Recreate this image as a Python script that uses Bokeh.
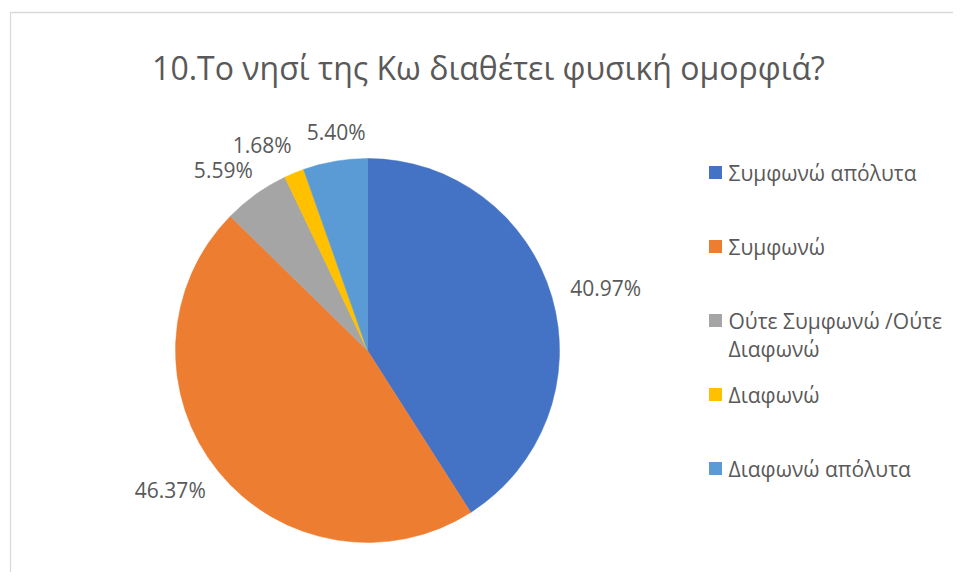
import math
from bokeh.plotting import figure
from bokeh.models import Range1d, ColumnDataSource
from bokeh.core.properties import value
from bokeh.embed import file_html
from bokeh.resources import INLINE

title_text = "10.Το νησί της Κω διαθέτει φυσική ομορφιά?"
categories = ["Συμφωνώ απόλυτα", "Συμφωνώ", "Ούτε Συμφωνώ /Ούτε Διαφωνώ", "Διαφωνώ", "Διαφωνώ απόλυτα"]
percentages = [40.97, 46.37, 5.59, 1.68, 5.40]
colors = ["#4472C4", "#ED7D31", "#A5A5A5", "#FFC000", "#5B9BD5"]

W, H = 953, 572
FONT = "Open Sans"
TXT = "#595959"

p = figure(width=W, height=H, output_backend="svg", toolbar_location=None,
           x_range=Range1d(0, W), y_range=Range1d(0, H), min_border=0)
p.axis.visible = False
p.grid.visible = False
p.outline_line_color = None
p.background_fill_color = "white"
p.border_fill_color = "white"

def py(page_y):
    # picture pixel y -> figure data y
    return H - page_y

def px(page_x):
    return page_x

# chart frame
p.quad(left=px(10), right=W + 50, top=py(12), bottom=-50, fill_alpha=0,
       line_color="#d9d9d9", line_width=1.3)

# title
p.text(x=[px(488)], y=[py(67)], text=[title_text], text_font=value(FONT),
       text_font_size="32px", text_color=TXT, text_align="center",
       text_baseline="alphabetic")

# pie
cx, cy, r = px(367), py(350), 192
total = sum(percentages)
starts, ends, mids = [], [], []
acc = 0.0
for v in percentages:
    a0 = math.pi / 2 - 2 * math.pi * acc / total
    acc += v
    a1 = math.pi / 2 - 2 * math.pi * acc / total
    starts.append(a0)
    ends.append(a1)
    mids.append((a0 + a1) / 2)

src = ColumnDataSource(dict(start=starts, end=ends, color=colors))
p.wedge(x=cx, y=cy, radius=r, start_angle="start", end_angle="end",
        direction="clock", fill_color="color", line_color="color",
        line_width=0.5, source=src)

# data labels (outside end), with a simple horizontal overlap resolution
pad = 20
lab_x, lab_y, lab_t, lab_w = [], [], [], []
for v, m in zip(percentages, mids):
    t = f"{v:.2f}%"
    w = 12 * len(t)
    ux, uy = math.cos(m), math.sin(m)
    a = w / 2 + (6 if ux < 0 else 0)
    lab_x.append(cx + (r + pad) * ux + a * ux)
    lab_y.append(cy + (r + pad) * uy + 10 * uy)
    lab_t.append(t)
    lab_w.append(w)

gap, lab_h = 14, 22
for _ in range(5):
    for i in range(len(lab_x)):
        for j in range(i + 1, len(lab_x)):
            if abs(lab_y[i] - lab_y[j]) >= lab_h:
                continue
            need = (lab_w[i] + lab_w[j]) / 2 + gap
            d = lab_x[j] - lab_x[i]
            if abs(d) < need:
                s = (need - abs(d)) / 2 * (1 if d >= 0 else -1)
                lab_x[i] -= s
                lab_x[j] += s

p.text(x=lab_x, y=lab_y, text=lab_t, text_font=value(FONT), text_font_size="21px",
       text_color=TXT, text_align="center", text_baseline="middle")

# legend
leg_sq_x = px(715)
leg_tx = px(728)
row0, step, lh = 172, 74, 28
sq_x, sq_y, t_x, t_y, t_t = [], [], [], [], []
for i, name in enumerate(categories):
    yc = row0 + step * i
    lines = [name]
    if len(name) > 18:
        k = name.rfind(" ")
        lines = [name[:k], name[k + 1:]]
    sq_x.append(leg_sq_x)
    sq_y.append(py(yc))
    for j, ln in enumerate(lines):
        t_x.append(leg_tx)
        t_y.append(py(yc + j * lh))
        t_t.append(ln)
p.rect(x=sq_x, y=sq_y, width=13, height=13, fill_color=colors, line_color=None)
p.text(x=t_x, y=t_y, text=t_t, text_font=value(FONT), text_font_size="21px",
       text_color=TXT, text_align="left", text_baseline="middle")

open("out.html", "w").write(file_html(p, INLINE))
